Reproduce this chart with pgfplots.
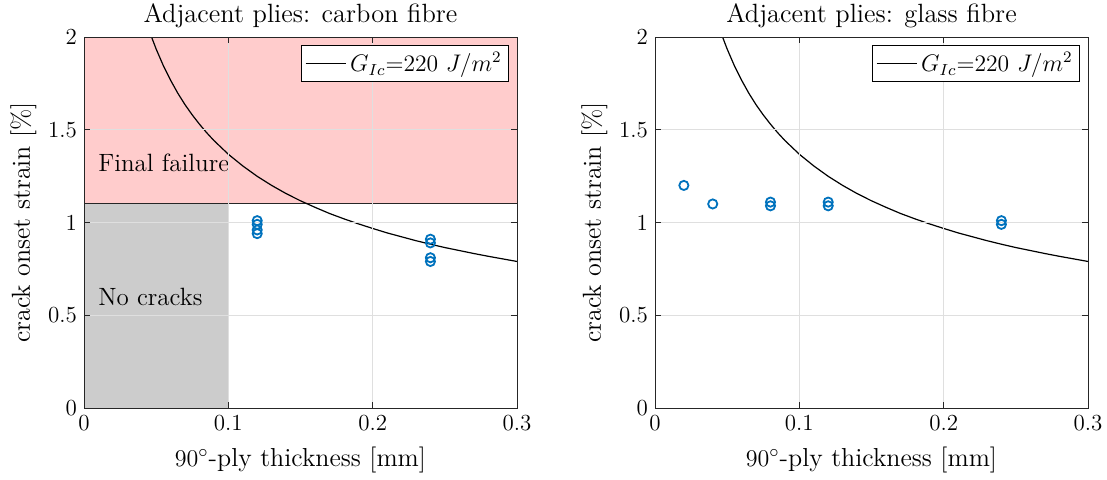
\documentclass[border=0pt]{standalone}
\usepackage{pgfplots}
\pgfplotsset{compat=1.18}
\definecolor{mblue}{rgb}{0,0.447,0.741}
\definecolor{pinkf}{rgb}{1,0.8,0.8}
\definecolor{grayf}{rgb}{0.8,0.8,0.8}
\definecolor{axc}{rgb}{0.15,0.15,0.15}
\begin{document}
\begin{tikzpicture}
\useasboundingbox (-42pt,-35.5pt) rectangle (511.5pt,204pt);
\pgfplotsset{
  every axis/.append style={font=\fontsize{11.5}{13}\selectfont},
  myax/.style={
    scale only axis, width=216.5pt, height=185.5pt,
    xmin=0, xmax=0.3, ymin=0, ymax=2,
    xtick={0,0.1,0.2,0.3}, ytick={0,0.5,1,1.5,2},
    xticklabels={0,0.1,0.2,0.3}, yticklabels={0,0.5,1,1.5,2},
    tick align=inside, major tick length=3pt,
    tick style={axc, line width=0.5pt},
    axis line style={axc, line width=0.5pt},
    grid=major, grid style={gray!25, line width=0.4pt},
    axis on top,
    xlabel={$90^\circ$-ply thickness [mm]},
    ylabel={crack onset strain [\%]},
    xlabel style={font=\fontsize{13}{15}\selectfont, yshift=-1pt},
    ylabel style={font=\fontsize{13}{15}\selectfont, yshift=-1pt},
    title style={font=\fontsize{13.2}{15}\selectfont, yshift=-5pt},
    legend cell align=left,
    legend image code/.code={\draw[#1] (0pt,0pt) -- (20pt,0pt);},
    legend style={at={(0.982,0.978)}, anchor=north east, draw=black, line width=0.5pt, fill=white, inner sep=1.5pt, font=\fontsize{11.8}{13}\selectfont},
  },
  curve/.style={black, line width=0.6pt},
  pts/.style={only marks, mark=o, mark size=2.3pt, mblue, mark options={line width=0.9pt}},
}
\pgfplotstableread{
x y
0.0468 2.000
0.050 1.935
0.055 1.845
0.060 1.767
0.065 1.697
0.070 1.635
0.075 1.580
0.080 1.530
0.085 1.484
0.090 1.442
0.100 1.368
0.110 1.305
0.120 1.249
0.130 1.200
0.140 1.156
0.150 1.117
0.160 1.082
0.170 1.049
0.180 1.020
0.190 0.993
0.200 0.968
0.210 0.944
0.220 0.923
0.230 0.902
0.240 0.883
0.250 0.865
0.260 0.849
0.270 0.833
0.280 0.818
0.290 0.804
0.300 0.790
}\curvedata
\begin{axis}[myax, title={Adjacent plies: carbon fibre}]
\addplot[draw=axc, fill=pinkf, line width=0.5pt, forget plot] coordinates {(0,1.1) (0.3,1.1) (0.3,2) (0,2)} -- cycle;
\addplot[draw=axc, fill=grayf, line width=0.5pt, forget plot] coordinates {(0,0) (0.1,0) (0.1,1.1) (0,1.1)} -- cycle;
\addplot[curve] table[x=x,y=y] {\curvedata};
\addlegendentry{$G_{Ic}$=220 $J/m^2$}
\addplot[pts, forget plot] coordinates {
(0.12,1.01) (0.12,0.99) (0.12,0.96) (0.12,0.94)
(0.24,0.91) (0.24,0.89) (0.24,0.81) (0.24,0.79)};
\node[anchor=west, font=\fontsize{12.5}{14}\selectfont] at (axis cs:0.005,1.32) {Final failure};
\node[anchor=west, font=\fontsize{12.5}{14}\selectfont] at (axis cs:0.005,0.60) {No cracks};
\end{axis}
\begin{axis}[myax, at={(285.5pt,0)}, title={Adjacent plies: glass fibre}]
\addplot[curve] table[x=x,y=y] {\curvedata};
\addlegendentry{$G_{Ic}$=220 $J/m^2$}
\addplot[pts, forget plot] coordinates {
(0.02,1.20) (0.04,1.10)
(0.08,1.11) (0.08,1.09)
(0.12,1.11) (0.12,1.09)
(0.24,1.01) (0.24,0.99)};
\end{axis}
\end{tikzpicture}
\end{document}
